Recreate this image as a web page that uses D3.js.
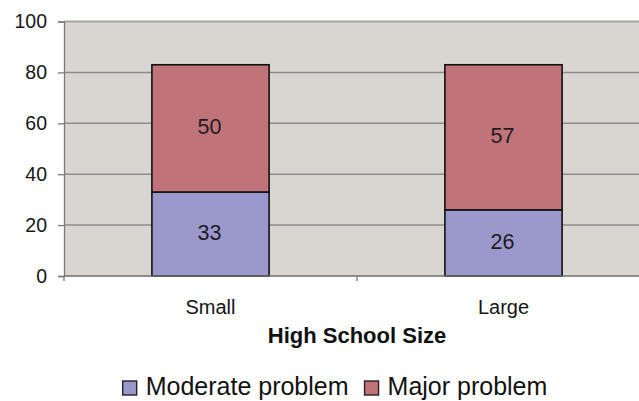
<!DOCTYPE html>
<html>
<head>
<meta charset="utf-8">
<script src="https://cdn.jsdelivr.net/npm/d3@7"></script>
<style>
  html, body { margin: 0; padding: 0; background: #fff; }
  svg { display: block; font-family: "Liberation Sans", Arial, sans-serif; }
</style>
</head>
<body>
<svg id="chart" width="639" height="401"></svg>
<script>
const categories = ["Small", "Large"];
const seriesNames = ["Moderate problem", "Major problem"];
const moderate = [33, 26];
const major = [50, 57];
const yTicks = [0, 20, 40, 60, 80, 100];
const xTitle = "High School Size";
const colors = ["#9b98cc", "#c07479"];

(function () {
const svg = d3.select("#chart");
const mLeft = 64, mRight = 650, mTop = 21.5, mBottom = 276;

const x = d3.scaleBand().domain(categories).range([mLeft, mRight]).paddingInner(0.6).paddingOuter(0.3);
const y = d3.scaleLinear().domain([0, 100]).range([mBottom, mTop]);

// plot background
svg.append("rect").attr("x", mLeft).attr("y", y(100)).attr("width", mRight - mLeft).attr("height", y(0) - y(100))
  .attr("fill", "#d9d5d0");

// gridlines
svg.append("g").selectAll("line").data(yTicks.filter(d => d > 0)).join("line")
  .attr("x1", mLeft).attr("x2", mRight).attr("y1", d => y(d)).attr("y2", d => y(d))
  .attr("stroke", d => d === 100 ? "#a8a6a3" : "#8e8c8a").attr("stroke-width", d => d === 100 ? 2 : 1.5);

// y axis
const yAxis = d3.axisLeft(y).tickValues(yTicks).tickSize(6).tickPadding(11);
const gy = svg.append("g").attr("transform", `translate(${mLeft},0)`).call(yAxis);
gy.select(".domain").attr("stroke", "#7a7a7a").attr("stroke-width", 1.3);
gy.selectAll(".tick line").attr("stroke", "#7a7a7a").attr("stroke-width", 1.3);
gy.selectAll(".tick text").attr("font-size", 19.5).attr("fill", "#151515")
  .attr("font-family", "Liberation Sans, Arial, sans-serif");

// stacked data
const rows = categories.map((c, i) => ({ cat: c, moderate: moderate[i], major: major[i] }));
const stack = d3.stack().keys(["moderate", "major"])(rows);

const layers = svg.append("g").selectAll("g").data(stack).join("g").attr("fill", (d, i) => colors[i]);
layers.selectAll("rect").data(d => d).join("rect")
  .attr("x", d => x(d.data.cat))
  .attr("width", x.bandwidth())
  .attr("y", d => y(d[1]))
  .attr("height", d => y(d[0]) - y(d[1]))
  .attr("stroke", "#111").attr("stroke-width", 1.6);

// value labels
layers.selectAll("text").data(d => d).join("text")
  .attr("x", d => x(d.data.cat) + x.bandwidth() / 2 - 1)
  .attr("y", d => (y(d[0]) + y(d[1])) / 2 - 2)
  .attr("dy", "0.36em")
  .attr("text-anchor", "middle")
  .attr("font-size", 21.5).attr("fill", "#1f1a22")
  .text(d => d[1] - d[0]);

// x axis
svg.append("line").attr("x1", mLeft).attr("x2", mRight).attr("y1", y(0)).attr("y2", y(0))
  .attr("stroke", "#6e6e6e").attr("stroke-width", 1.5);
const sepVals = [mLeft, mLeft + x.step(), mRight];
svg.append("g").selectAll("line").data(sepVals).join("line")
  .attr("x1", d => d).attr("x2", d => d).attr("y1", y(0)).attr("y2", y(0) + 5)
  .attr("stroke", "#7a7a7a").attr("stroke-width", 1.3);
svg.append("g").selectAll("text").data(categories).join("text")
  .attr("x", d => x(d) + x.bandwidth() / 2)
  .attr("y", 314)
  .attr("text-anchor", "middle")
  .attr("font-size", 20).attr("fill", "#151515")
  .text(d => d);

// x title
svg.append("text").attr("x", (mLeft + mRight) / 2).attr("y", 343)
  .attr("text-anchor", "middle").attr("font-size", 22).attr("font-weight", "bold").attr("fill", "#111")
  .text(xTitle);

// legend
const legend = svg.append("g");
const items = legend.selectAll("g").data(seriesNames).join("g");
items.append("rect").attr("width", 14).attr("height", 14).attr("y", -14)
  .attr("fill", (d, i) => colors[i]).attr("stroke", "#222").attr("stroke-width", 1.4);
items.append("text").attr("x", 23).attr("y", 0).attr("font-size", 25).attr("fill", "#111").text(d => d);
let cx = 0;
items.each(function () {
  const w = this.getBBox().width;
  d3.select(this).attr("transform", `translate(${cx},0)`);
  cx += w + 16;
});
const totalW = cx - 16;
legend.attr("transform", `translate(${335 - totalW / 2},395)`);
})();
</script>
</body>
</html>
